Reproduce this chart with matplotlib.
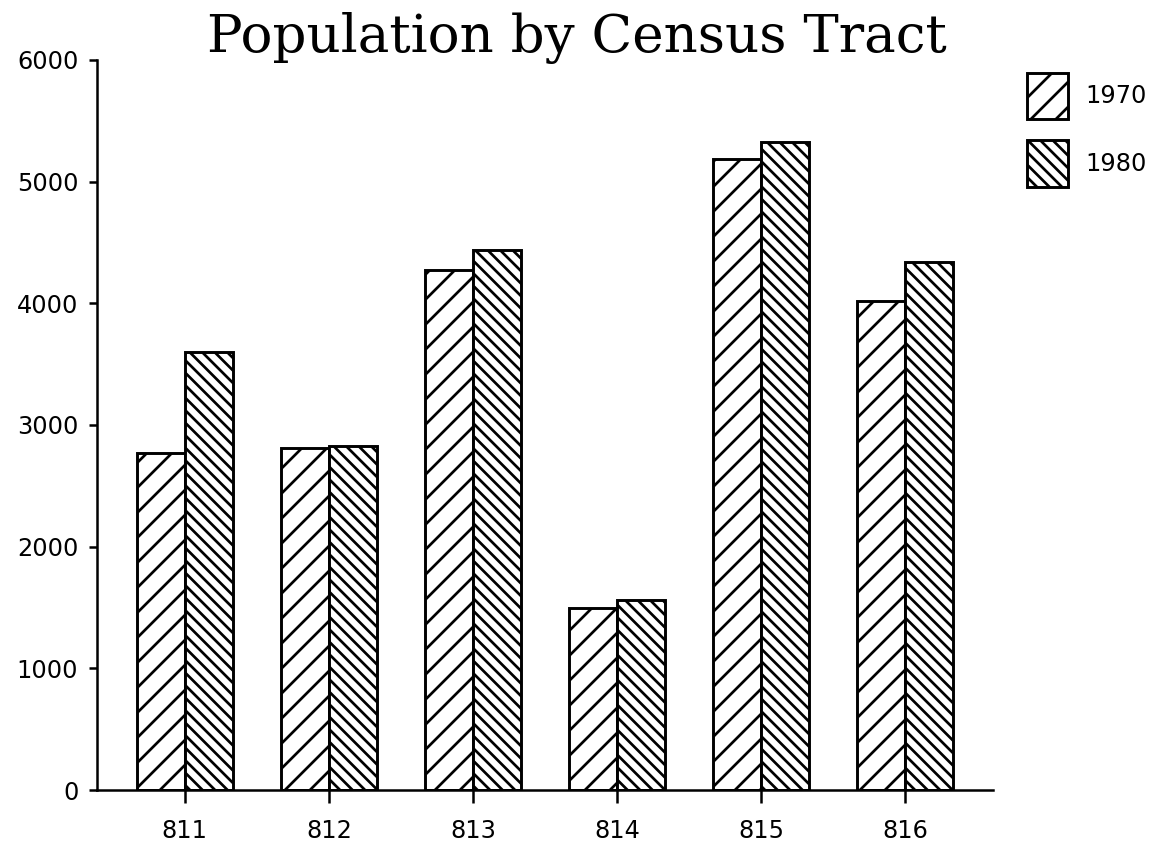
import numpy as np
import matplotlib.pyplot as plt

# dados
tracts = ['811', '812', '813', '814', '815', '816']
pop_1970 = [2770, 2810, 4270, 1500, 5190, 4020]
pop_1980 = [3600, 2830, 4440, 1560, 5330, 4340]
years = ['1970', '1980']

DPI = 150
plt.rcParams['hatch.linewidth'] = 1.3

# padrões de hachura (barra invertida via chr para evitar problemas de escape)
hatch_1970 = '/' * 2
hatch_1980 = chr(92) * 4

fig = plt.figure(figsize=(1157 / DPI, 852 / DPI), dpi=DPI)
ax = fig.add_axes([97 / 1157, 62 / 852, (993 - 97) / 1157, (790 - 60) / 852])

x = np.arange(len(tracts))
w = 0.335
b1 = ax.bar(x - w / 2, pop_1970, w, facecolor='white', edgecolor='black',
            linewidth=1.4, hatch=hatch_1970, label=years[0])
b2 = ax.bar(x + w / 2, pop_1980, w, facecolor='white', edgecolor='black',
            linewidth=1.4, hatch=hatch_1980, label=years[1])

ax.set_xlim(-0.61, 5.61)
ax.set_ylim(0, 6000)
ax.set_yticks(range(0, 6001, 1000))
ax.set_xticks(x)
ax.set_xticklabels(tracts)

for s in ['top', 'right']:
    ax.spines[s].set_visible(False)
ax.spines['left'].set_linewidth(1.2)
ax.spines['bottom'].set_linewidth(1.2)
ax.tick_params(axis='both', direction='out', width=1.2, labelsize=11.5)
ax.tick_params(axis='y', length=4, pad=5)
ax.tick_params(axis='x', length=6, pad=8)

fig.text(577 / 1157, 1 - 38 / 852, 'Population by Census Tract',
         family='DejaVu Serif', fontsize=25.5, ha='center', va='center')

fig.legend(handles=[b1, b2], labels=years, loc='upper left',
           bbox_to_anchor=(1005 / 1157, 1 - 51 / 852), frameon=False,
           fontsize=11.5, handlelength=1.75, handleheight=2.6,
           labelspacing=0.9, handletextpad=0.7)

fig.savefig('out.png', dpi=DPI)
